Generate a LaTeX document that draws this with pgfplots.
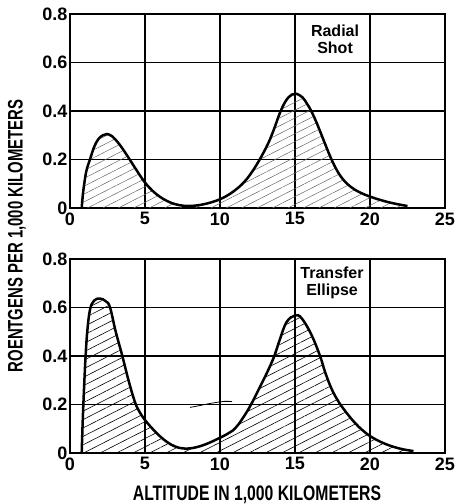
\documentclass[border=0pt]{standalone}
\usepackage{pgfplots}
\usepackage{pgfplotstable}
\pgfplotsset{compat=1.18}
\usetikzlibrary{patterns.meta}
\usepackage{fontspec}
\setmainfont{Liberation Sans}

% radial shot
\pgfplotstableread{
x y
0.78 0
0.85 0.05
0.95 0.10
1.10 0.155
1.33 0.20
1.60 0.25
1.90 0.285
2.20 0.300
2.45 0.305
2.80 0.296
3.20 0.270
3.60 0.236
4.00 0.198
4.50 0.150
5.00 0.105
5.50 0.071
6.00 0.046
6.50 0.028
7.00 0.016
7.60 0.009
8.20 0.009
8.80 0.014
9.40 0.023
10.0 0.036
10.5 0.052
11.0 0.073
11.5 0.100
12.0 0.137
12.6 0.195
13.2 0.265
13.6 0.325
14.0 0.393
14.4 0.443
14.8 0.468
15.1 0.471
15.5 0.456
15.8 0.43
16.1 0.398
16.5 0.343
17.0 0.265
17.4 0.205
17.8 0.155
18.2 0.118
18.7 0.088
19.3 0.065
20.0 0.047
20.7 0.033
21.5 0.020
22.5 0.008
}\radial

% transfer ellipse
\pgfplotstableread{
x y
0.78 0
0.83 0.10
0.89 0.20
0.96 0.30
1.04 0.40
1.15 0.50
1.33 0.59
1.60 0.628
2.00 0.637
2.40 0.625
2.67 0.60
3.05 0.50
3.49 0.40
3.90 0.30
4.33 0.21
4.65 0.168
5.00 0.136
5.50 0.100
6.00 0.069
6.50 0.044
7.00 0.027
7.50 0.019
8.00 0.019
8.50 0.025
9.00 0.035
9.50 0.048
10.0 0.063
10.5 0.079
11.0 0.101
11.5 0.142
12.07 0.20
12.78 0.287
13.2 0.34
13.62 0.40
14.0 0.47
14.44 0.54
15.0 0.567
15.44 0.556
16.1 0.487
16.67 0.40
17.0 0.335
17.4 0.270
17.8 0.222
18.2 0.185
18.6 0.153
19.0 0.124
19.5 0.094
20.1 0.066
21.0 0.038
22.0 0.018
22.9 0.008
}\transfer

\pgfplotsset{
  panel/.style={
    scale only axis, width=375pt, height=194pt,
    xmin=0, xmax=25, ymin=0, ymax=0.8,
    xtick={0,5,...,25}, ytick={0,0.2,0.4,0.6,0.8},
    xticklabels={0,5,10,15,20,25}, yticklabels={0,0.2,0.4,0.6,0.8},
    grid=major, grid style={black, line width=1.4pt},
    major tick length=0pt,
    axis line style={line width=1.9pt},
    tick label style={font=\fontsize{18}{18}\selectfont\bfseries},
    xticklabel style={yshift=-1pt},
    yticklabel style={xshift=1pt},
    /pgf/number format/assume math mode=true,
  },
  curve/.style={black, line width=2.5pt, smooth, tension=0.65},
}

\begin{document}
\begin{tikzpicture}
\useasboundingbox (-70pt,-51pt) rectangle (390pt,453pt);

\begin{axis}[panel, at={(0pt,245pt)}]
\addplot[draw=none, smooth, tension=0.65, pattern={Lines[angle=27,distance=7pt,line width=0.5pt]}, pattern color=black!60]
  table[x=x,y=y]{\radial} \closedcycle;
\addplot[curve] table[x=x,y=y]{\radial};
\node[align=center, font=\fontsize{16}{17}\selectfont\bfseries] at (axis cs:17.67,0.696) {Radial\\Shot};
\end{axis}

\begin{axis}[panel, at={(0pt,0pt)}]
\addplot[draw=none, smooth, tension=0.65, pattern={Lines[angle=27,distance=7.5pt,line width=0.6pt]}, pattern color=black]
  table[x=x,y=y]{\transfer} \closedcycle;
\addplot[curve] table[x=x,y=y]{\transfer};
\addplot[black, line width=0.8pt, smooth] coordinates {(8.0,0.188) (8.6,0.195) (9.4,0.205) (10.3,0.213) (10.8,0.212)};
\node[align=center, font=\fontsize{16}{17}\selectfont\bfseries] at (axis cs:17.47,0.70) {Transfer\\Ellipse};
\end{axis}

\node[font=\fontsize{21}{21}\selectfont\bfseries] at (187pt,-42pt)
  {\scalebox{0.75}[1]{ALTITUDE IN 1,000 KILOMETERS}};
\node[font=\fontsize{21}{21}\selectfont\bfseries, rotate=90] at (-53pt,217pt)
  {\scalebox{0.71}[1]{ROENTGENS PER 1,000 KILOMETERS}};
\end{tikzpicture}
\end{document}
